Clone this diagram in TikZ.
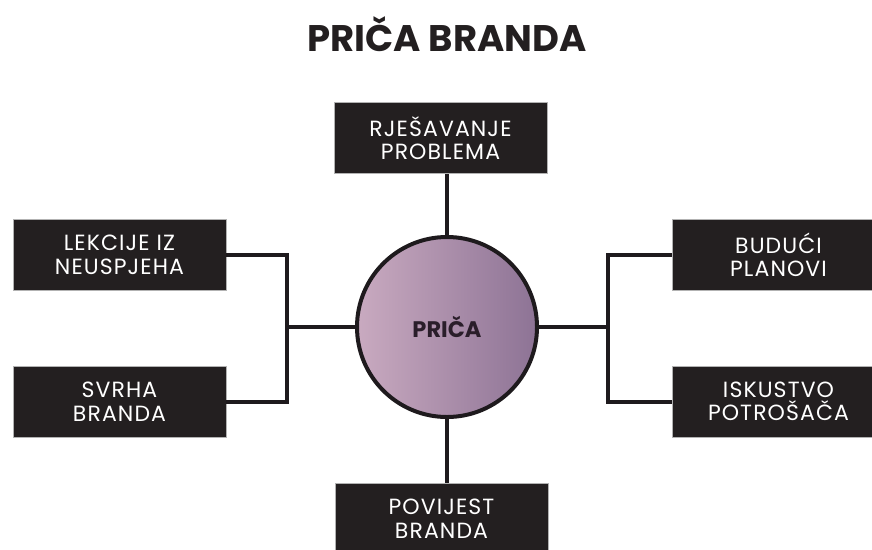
\documentclass[tikz,border=0pt]{standalone}
\usepackage{fontspec}
\usepackage{xcolor}
\usepackage{tikz}
\setmainfont{Poppins}
\newfontfamily\okvirfont[LetterSpace=5]{Poppins}
\definecolor{kutija}{HTML}{231F20}
\definecolor{linija}{HTML}{1E1A1D}
\definecolor{svijetla}{HTML}{C9AAC0}
\definecolor{tamna}{HTML}{8D7395}
\definecolor{tekst}{HTML}{2A1E2A}
\tikzset{
  okvir/.style={fill=kutija, draw=gray!60, line width=0.6pt, minimum width=213pt,
    minimum height=71pt, text=white, align=center, font=\okvirfont\fontsize{22}{23.5}\selectfont,
    inner sep=0pt},
  spoj/.style={draw=linija, line width=4pt}
}
\begin{document}
\begin{tikzpicture}[x=1pt,y=-1pt]
\useasboundingbox (0,0) rectangle (872,549);
\clip (0,0) rectangle (872,549);
\node[font=\fontsize{37}{40}\selectfont\bfseries, text=kutija] (naslov) at (447,34) {PRIČA BRANDA};
% krug u sredini
\node[circle, minimum size=180pt, left color=svijetla, right color=tamna,
  draw=linija, line width=4pt, text=tekst, font=\fontsize{22.5}{24}\selectfont\bfseries] (prica) at (447,327) {PRIČA};
% kutije
\node[okvir] (rjesavanje) at (440.5,138) {RJEŠAVANJE\\PROBLEMA};
\node[okvir] (povijest) at (441.5,518.5) {POVIJEST\\BRANDA};
\node[okvir] (lekcije) at (119.5,255) {LEKCIJE IZ\\NEUSPJEHA};
\node[okvir] (svrha) at (119.5,401.5) {SVRHA\\BRANDA};
\node[okvir] (planovi) at (778.5,255) {BUDUĆI\\PLANOVI};
\node[okvir] (iskustvo) at (778.5,401.5) {ISKUSTVO\\POTROŠAČA};
% spojevi
\coordinate (lspoj) at (287,327);
\coordinate (dspoj) at (608,327);
\draw[spoj] (prica.north) -- (prica.north |- rjesavanje.south);
\draw[spoj] (prica.south) -- (prica.south |- povijest.north);
\draw[spoj] (lekcije.east) -| (lspoj) |- (svrha.east);
\draw[spoj] (lspoj) -- (prica.west);
\draw[spoj] (planovi.west) -| (dspoj) |- (iskustvo.west);
\draw[spoj] (dspoj) -- (prica.east);
\end{tikzpicture}
\end{document}
